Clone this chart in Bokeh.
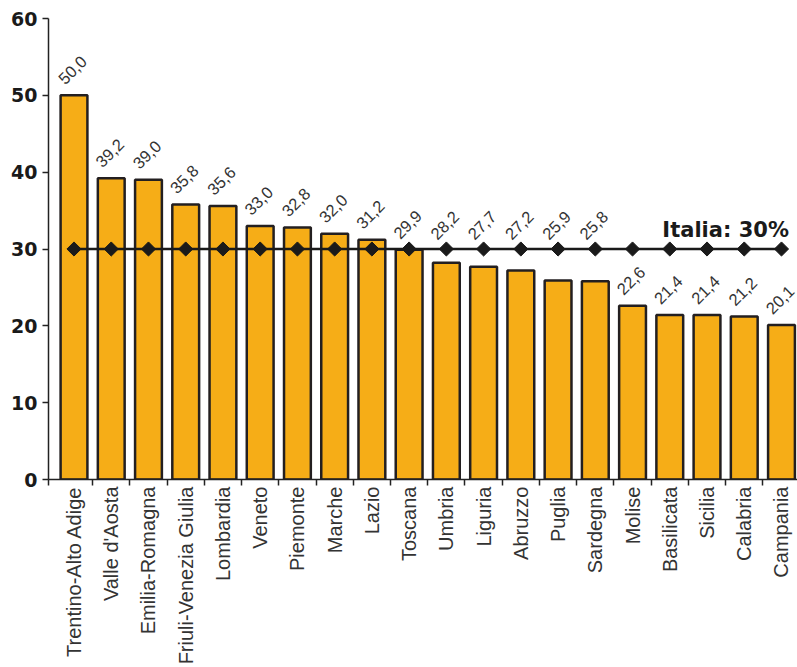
import numpy as np
from bokeh.plotting import figure
from bokeh.models import Range1d, FixedTicker, ColumnDataSource
from bokeh.core.properties import value
from bokeh.embed import file_html
from bokeh.resources import INLINE

regions = ["Trentino-Alto Adige", "Valle d'Aosta", "Emilia-Romagna", "Friuli-Venezia Giulia",
           "Lombardia", "Veneto", "Piemonte", "Marche", "Lazio", "Toscana", "Umbria", "Liguria",
           "Abruzzo", "Puglia", "Sardegna", "Molise", "Basilicata", "Sicilia", "Calabria", "Campania"]
values = [50.0, 39.2, 39.0, 35.8, 35.6, 33.0, 32.8, 32.0, 31.2, 29.9, 28.2, 27.7,
          27.2, 25.9, 25.8, 22.6, 21.4, 21.4, 21.2, 20.1]
italia = 30.0
italia_label = "Italia: 30%"
y_ticks = [0, 10, 20, 30, 40, 50, 60]

n = len(regions)
xs = list(range(n))
labels = [f"{v:.1f}".replace(".", ",") for v in values]
# labels of bars just under the national line are lifted above the line
label_y = [max(v, italia - 0.2) if v >= italia - 6 else v for v in values]

src = ColumnDataSource(dict(x=xs, top=values, lab=labels, ly=label_y, ref=[italia] * n))

x_start = -0.685
p = figure(width=797, height=667, output_backend="svg", toolbar_location=None,
           x_range=Range1d(x_start, 19.43), y_range=Range1d(0, 60),
           min_border_left=48, min_border_right=0, min_border_top=18, min_border_bottom=188)
p.outline_line_color = None
p.xgrid.visible = False
p.ygrid.visible = False
p.background_fill_color = "white"
p.border_fill_color = "white"

p.vbar(x="x", top="top", width=0.72, bottom=0, source=src,
       fill_color="#F6AD17", line_color="#231F20", line_width=2.5)

p.line(x="x", y="ref", source=src, line_color="#1A1A1A", line_width=2.5)
p.scatter(x="x", y="ref", source=src, marker="square", angle=np.pi / 4, size=10,
          fill_color="#1A1A1A", line_color="#1A1A1A")

p.text(x="x", y="ly", text="lab", source=src, angle=np.pi / 4,
       x_offset=-13, y_offset=-14, text_align="left", text_baseline="alphabetic",
       text_font=value("Liberation Sans"), text_font_size="16.5px", text_color="#333333")

p.text(x=[xs[-1] + 0.2], y=[italia], text=[italia_label], x_offset=0, y_offset=-19,
       text_align="right", text_baseline="alphabetic",
       text_font=value("DejaVu Sans"), text_font_style="bold", text_font_size="21px",
       text_color="#1A1A1A")

# y axis
ya = p.yaxis[0]
ya.ticker = FixedTicker(ticks=y_ticks)
ya.major_tick_out = 6
ya.major_tick_in = 0
ya.minor_tick_line_color = None
ya.axis_line_width = 1.5
ya.axis_line_color = "#222222"
ya.major_tick_line_color = "#222222"
ya.major_tick_line_width = 1.5
ya.major_label_text_font = "DejaVu Sans"
ya.major_label_text_font_style = "bold"
ya.major_label_text_font_size = "19px"
ya.major_label_text_color = "#1A1A1A"
ya.major_label_standoff = 5

# x axis
xa = p.xaxis[0]
xa.ticker = FixedTicker(ticks=xs, minor_ticks=[x_start] + [i + 0.5 for i in range(n - 1)])
xa.major_label_overrides = {i: r for i, r in enumerate(regions)}
xa.major_label_orientation = np.pi / 2
xa.major_tick_line_color = None
xa.major_tick_out = 6
xa.major_tick_in = 0
xa.minor_tick_out = 6
xa.minor_tick_in = 0
xa.minor_tick_line_color = "#222222"
xa.minor_tick_line_width = 1.5
xa.axis_line_width = 1.5
xa.axis_line_color = "#222222"
xa.major_label_text_font = "Liberation Sans"
xa.major_label_text_font_size = "20px"
xa.major_label_text_color = "#333333"
xa.major_label_standoff = 1

open("out.html", "w").write(file_html(p, INLINE))
